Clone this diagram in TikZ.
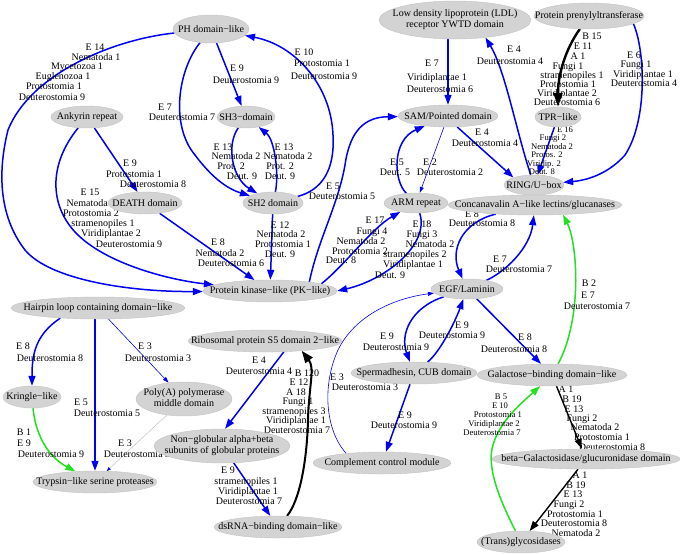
\documentclass[tikz,border=0pt]{standalone}
\usepackage{fontspec}
\setmainfont{Liberation Serif}
\usetikzlibrary{shapes.geometric,arrows.meta,backgrounds}
\definecolor{ndfill}{HTML}{D3D3D3}
\definecolor{ndline}{HTML}{C2C2C2}
\definecolor{eblue}{HTML}{0000F0}
\definecolor{egreen}{HTML}{22E022}
\newcounter{lbc}
\newcommand\elab[3]{\stepcounter{lbc}\node[lab] (lb\arabic{lbc}) at (#1,{#2+3.4}) {#3};}
\newcommand\slab[3]{\stepcounter{lbc}\node[lab,font=\fontsize{8.6}{9}\selectfont] (lb\arabic{lbc}) at (#1,{#2+3}) {#3};}
\newcommand\domnode[6]{\node[dom, minimum width=#4pt, minimum height=#5pt] (#1) at (#2,#3) {\makebox[0pt]{#6}};}
\newcommand\twol[2]{\begin{tabular}{@{}c@{}}#1\\#2\end{tabular}}
\begin{document}
\begin{tikzpicture}[x=1pt,y=-1pt,font=\fontsize{10}{11}\selectfont,
  lab/.style={anchor=base,inner sep=0pt},
  dom/.style={ellipse,fill=ndfill,draw=ndline,line width=0.4pt,inner sep=0pt},
  be/.style={draw=eblue,line width=1.5pt,-{Triangle[length=10pt,width=7pt]}},
  bt/.style={draw=eblue,line width=0.6pt,-{Triangle[length=6pt,width=4pt]}},
  ge/.style={draw=egreen,line width=1.5pt,-{Triangle[length=10pt,width=7pt]}},
  ke/.style={draw=black,line width=1.4pt,-{Triangle[length=10pt,width=7pt]}},
  kb/.style={draw=black,line width=2pt,-{Triangle[length=12pt,width=9pt]}},
  kk/.style={draw=black,line width=2.4pt,-{Triangle[length=14pt,width=9pt]}},
  gt/.style={draw=gray!55,line width=0.4pt,-{Triangle[length=4pt,width=3pt,color=eblue]}}]
\useasboundingbox (0,0) rectangle (685,554);
% ---------- nodes ----------
\domnode{PH}{211}{29}{76}{28}{PH domain−like}
\domnode{LDL}{455}{20}{152}{38}{\twol{Low density lipoprotein (LDL)}{receptor YWTD domain}}
\domnode{Prenyl}{589}{16}{110}{26}{Protein prenylyltransferase}
\domnode{Ankyrin}{87}{117}{72}{22}{Ankyrin repeat}
\domnode{SH3}{246}{117}{58}{22}{SH3−domain}
\domnode{SAM}{448}{116}{100}{22}{SAM/Pointed domain}
\domnode{TPR}{558}{117}{46}{20}{TPR−like}
\domnode{RING}{534}{185}{60}{20}{RING/U−box}
\domnode{DEATH}{145}{203}{74}{22}{DEATH domain}
\domnode{SH2}{273}{203}{60}{22}{SH2 domain}
\domnode{ARM}{416}{203}{64}{20}{ARM repeat}
\domnode{Conc}{535}{205}{174}{20}{Concanavalin A−like lectins/glucanases}
\domnode{PK}{270}{291}{134}{22}{Protein kinase−like (PK−like)}
\domnode{EGF}{467}{289}{72}{20}{EGF/Laminin}
\domnode{Hairpin}{98}{308}{174}{22}{Hairpin loop containing domain−like}
\domnode{Ribo}{265}{341}{154}{22}{Ribosomal protein S5 domain 2−like}
\domnode{Sperm}{414}{373}{126}{22}{Spermadhesin, CUB domain}
\domnode{Gal}{552}{375}{150}{22}{Galactose−binding domain−like}
\domnode{Kringle}{32}{397}{58}{22}{Kringle−like}
\domnode{PolyA}{184}{399}{96}{34}{\twol{Poly(A) polymerase}{middle domain}}
\domnode{NonGlob}{222}{446}{136}{34}{\twol{Non−globular alpha+beta}{subunits of globular proteins}}
\domnode{BetaGal}{586}{459}{188}{20}{beta−Galactosidase/glucuronidase domain}
\domnode{Compl}{382}{463}{138}{22}{Complement control module}
\domnode{Trypsin}{95}{482}{124}{22}{Trypsin−like serine proteases}
\domnode{dsRNA}{278}{527}{128}{22}{dsRNA−binding domain−like}
\domnode{Trans}{521}{542}{88}{22}{(Trans)glycosidases}
\begin{pgfonlayer}{background}
\fill[white] (0,0) rectangle (685,554);
% ---------- edges ----------
\draw[be] (PH) .. controls (110,40) and (30,75) .. (8,130) .. controls (-2,170) and (-2,215) .. (25,250) .. controls (50,280) and (130,292) .. (PK);
\draw[be] (PH) -- (SH3);
\draw[be] (PH) .. controls (178,70) and (170,125) .. (195,155) .. controls (210,175) and (225,188) .. (SH2);
\draw[be] (SH3) .. controls (226,145) and (232,178) .. (SH2);
\draw[be] (SH2) .. controls (279,175) and (275,140) .. (SH3);
\draw[be] (SH2) -- (PK);
\draw[be] (SH2) .. controls (322,190) and (335,170) .. (333,135) .. controls (331,85) and (295,45) .. (PH);
\draw[be] (Ankyrin) -- (DEATH);
\draw[be] (Ankyrin) .. controls (48,165) and (50,205) .. (75,232) .. controls (105,264) and (170,280) .. (PK);
\draw[be] (DEATH) -- (PK);
\draw[be] (LDL.south -| SAM.north) -- (SAM.north);
\draw[be] (RING) .. controls (516,130) and (505,70) .. (LDL.-30);
\draw[kk] (Prenyl) .. controls (565,50) and (558,75) .. (TPR);
\draw[be] (Prenyl.-10) .. controls (645,50) and (648,120) .. (625,155) .. controls (610,172) and (590,180) .. (RING);
\draw[be] (SAM.-50) -- (RING.160);
\draw[be] (TPR) -- (RING);
\draw[be] (ARM) .. controls (393,180) and (392,140) .. (SAM);
\draw[bt] (SAM) -- (ARM);
\draw[be] (PK.8) .. controls (345,265) and (372,228) .. (ARM);
\draw[be] (ARM.-70) .. controls (430,245) and (385,280) .. (PK.0);
\draw[be] (PK.13) .. controls (318,240) and (338,205) .. (345,165) .. controls (350,130) and (365,117) .. (SAM);
\draw[be] (Conc) .. controls (462,222) and (450,250) .. (EGF);
\draw[be] (EGF) .. controls (505,272) and (530,248) .. (Conc);
\draw[ge] (Gal) .. controls (582,320) and (578,245) .. (Conc.-19);
\draw[be] (EGF) -- (Gal);
\draw[be] (EGF) .. controls (410,308) and (400,335) .. (Sperm);
\draw[be] (Sperm) .. controls (440,352) and (455,322) .. (EGF);
\draw[bt] (Compl.165) .. controls (325,430) and (322,385) .. (338,350) .. controls (355,315) and (395,298) .. (EGF);
\draw[be] (Sperm) -- (Compl);
\draw[ke] (Gal) -- (BetaGal);
\draw[ke] (BetaGal) -- (Trans);
\draw[ge] (Trans) .. controls (505,510) and (485,470) .. (493,445) .. controls (500,420) and (525,400) .. (Gal);
\draw[be] (Hairpin.-165) .. controls (35,335) and (32,355) .. (Kringle);
\draw[be] (Hairpin.south -| Trypsin.north) -- (Trypsin.north);
\draw[bt] (Hairpin) -- (PolyA);
\draw[ge] (Kringle) .. controls (35,430) and (45,455) .. (Trypsin);
\draw[gt] (PolyA) -- (Trypsin);
\draw[be] (Ribo.-30) -- (NonGlob.80);
\draw[kb] (dsRNA) .. controls (300,500) and (307,460) .. (308,420) .. controls (309,385) and (315,368) .. (Ribo.-15);
\draw[be] (NonGlob) -- (dsRNA);
% ---------- labels ----------
\elab{95}{47}{E 14}\elab{96}{57}{Nematoda 1}\elab{77}{66}{Mycetozoa 1}
\elab{63}{76}{Euglenozoa 1}\elab{54}{86}{Protostomia 1}\elab{52}{97}{Deuterostomia 9}
\elab{165}{107}{E 7}\elab{182}{117}{Deuterostomia 7}
\elab{237}{68}{E 9}\elab{246}{80}{Deuterostomia 9}
\elab{304}{52}{E 10}\elab{322}{63}{Protostomia 1}\elab{324}{76}{Deuterostomia 9}
\elab{130}{163}{E 9}\elab{134}{174}{Protostomia 1}\elab{153}{184}{Deuterostomia 8}
\elab{90}{192}{E 15}\elab{91}{203}{Nematoda 2}\elab{91}{213}{Protostomia 2}
\elab{103}{223}{stramenopiles 1}\elab{111}{233}{Viridiplantae 2}\elab{129}{244}{Deuterostomia 9}
\elab{223}{147}{E 13}\elab{236}{156}{Nematoda 2}\elab{231}{166}{Prot. 2}\elab{242}{176}{Deut. 9}
\elab{284}{147}{E 13}\elab{288}{156}{Nematoda 2}\elab{280}{166}{Prot. 2}\elab{280}{176}{Deut. 9}
\elab{280}{225}{E 12}\elab{281}{234}{Nematoda 2}\elab{283}{244}{Protostomia 1}\elab{280}{254}{Deut. 9}
\elab{218}{242}{E 8}\elab{220}{253}{Nematoda 2}\elab{231}{263}{Deuterostomia 6}
\elab{333}{186}{E 5}\elab{342}{196}{Deuterostomia 5}
\elab{375}{220}{E 17}\elab{372}{231}{Fungi 4}\elab{361}{241}{Nematoda 2}
\elab{360}{251}{Protostomia 2}\elab{341}{260}{Deut. 8}
\elab{422}{224}{E 18}\elab{422}{234}{Fungi 3}\elab{430}{244}{Nematoda 2}
\elab{415}{254}{stramenopiles 2}\elab{413}{264}{Viridiplantae 1}\elab{390}{275}{Deut. 9}
\elab{397}{162}{E 5}\elab{395}{172}{Deut. 5}
\elab{430}{162}{E 2}\elab{450}{172}{Deuterostomia 2}
\elab{432}{63}{E 7}\elab{437}{77}{Viridiplantae 1}\elab{440}{89}{Deuterostomia 6}
\elab{514}{49}{E 4}\elab{510}{61}{Deuterostomia 4}
\elab{592}{36}{B 15}\elab{583}{46}{E 11}\elab{578}{56}{A 1}\elab{568}{66}{Fungi 1}
\elab{572}{75}{stramenopiles 1}\elab{568}{84}{Protostomia 1}\elab{567}{93}{Viridiplantae 2}
\elab{567}{102}{Deuterostomia 6}
\elab{634}{55}{E 6}\elab{636}{64}{Fungi 1}\elab{643}{74}{Viridiplantae 1}\elab{644}{83}{Deuterostomia 4}
\slab{565}{129}{E 16}\slab{553}{137.5}{Fungi 2}\slab{552}{146}{Nematoda 2}
\slab{547}{154.5}{Protos. 2}\slab{544}{163}{Viridip. 2}\slab{542}{171.5}{Deut. 8}
\elab{482}{132}{E 4}\elab{485}{143}{Deuterostomia 4}
\elab{472}{214}{E 8}\elab{482}{223}{Deuterostomia 8}
\elab{500}{259}{E 7}\elab{519}{269}{Deuterostomia 7}
\elab{589}{283}{B 2}\elab{588}{295}{E 7}\elab{597}{306}{Deuterostomia 7}
\elab{387}{336}{E 9}\elab{396}{347}{Deuterostomia 9}
\elab{462}{325}{E 9}\elab{452}{335}{Deuterostomia 9}
\elab{525}{337}{E 8}\elab{514}{349}{Deuterostomia 8}
\elab{337}{377}{E 3}\elab{365}{387}{Deuterostomia 3}
\elab{405}{415}{E 9}\elab{404}{425}{Deuterostomia 9}
\elab{259}{360}{E 4}\elab{259}{371}{Deuterostomia 4}
\elab{307}{373}{B 120}\elab{299}{382}{E 12}\elab{296}{392}{A 18}\elab{298}{401}{Fungi 1}
\elab{294}{411}{stramenopiles 3}\elab{296}{420}{Viridiplantae 1}\elab{297}{430}{Deuterostomia 7}
\elab{228}{470}{E 9}\elab{246}{481}{stramenopiles 1}\elab{248}{491}{Viridiplantae 1}\elab{249}{501}{Deuterostomia 7}
\elab{23}{346}{E 8}\elab{50}{358}{Deuterostomia 8}
\elab{81}{402}{E 5}\elab{107}{413}{Deuterostomia 5}
\elab{145}{346}{E 3}\elab{158}{358}{Deuterostomia 3}
\elab{24}{432}{B 1}\elab{24}{443}{E 9}\elab{51}{454}{Deuterostomia 9}
\elab{125}{443}{E 3}\elab{137}{454}{Deuterostomia 3}
\elab{566}{389}{A 1}\elab{572}{399}{B 19}\elab{574}{409}{E 13}\elab{582}{418}{Fungi 2}
\elab{595}{427}{Nematoda 2}\elab{602}{437}{Protostomia 1}\elab{612}{447}{Deuterostomia 8}
\elab{580}{475}{A 1}\elab{576}{485}{B 19}\elab{573}{494}{E 13}\elab{569}{504}{Fungi 2}
\elab{575}{514}{Protostomia 1}\elab{574}{523}{Deuterostomia 8}\elab{576}{533}{Nematoda 2}
\slab{501}{396}{B 5}\slab{500}{405}{E 10}\slab{498}{414}{Protostomia 1}
\slab{494}{423}{Viridiplantae 2}\slab{492}{432}{Deuterostomia 7}
\end{pgfonlayer}
\end{tikzpicture}
\end{document}
